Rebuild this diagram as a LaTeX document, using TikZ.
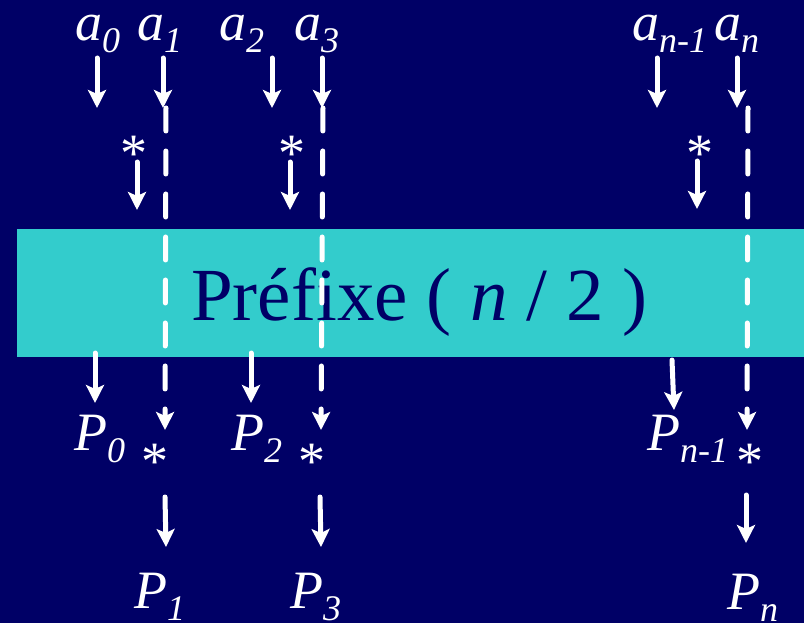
\documentclass[tikz,border=0pt]{standalone}
\usepackage{fontspec}
\setmainfont{Liberation Serif}
\usetikzlibrary{arrows.meta}
\definecolor{navy}{RGB}{0,0,102}
\definecolor{band}{RGB}{51,204,204}
\newcommand\labsub[3]{{\fontsize{54}{54}\selectfont\itshape #1\kern#3\raisebox{-12pt}{\fontsize{36}{36}\selectfont #2}}}
\begin{document}
\begin{tikzpicture}[x=1pt,y=-1pt,
  lbl/.style={anchor=base west,inner sep=0pt,text=white},
  star/.style={anchor=base,inner sep=0pt,text=white,font=\fontsize{54}{54}\selectfont},
  arr/.style={draw=white,line width=5pt,line cap=round,-{Stealth[length=18pt,width=18pt,inset=4pt]}},
  darr/.style={arr,dash pattern=on 23pt off 20pt}]
\fill[navy] (0,0) rectangle (804,623);
\useasboundingbox (0,0) rectangle (804,623);
\fill[band] (17,229) rectangle (804,357);
\node[anchor=base west,inner sep=0pt,text=navy,font=\fontsize{75}{75}\selectfont] (pref) at (191,320) {Pr\'efixe ( \textit{n} / 2 )};
% top labels
\node[lbl] (a0) at (75,41) {\labsub{a}{0}{0pt}};
\node[lbl] (a1) at (137,41) {\labsub{a}{1}{0pt}};
\node[lbl] (a2) at (219,41) {\labsub{a}{2}{0pt}};
\node[lbl] (a3) at (294,41) {\labsub{a}{3}{0pt}};
\node[lbl] (an1) at (632,41) {\labsub{a}{n-1}{0pt}};
\node[lbl] (an) at (714,41) {\labsub{a}{n}{0pt}};
% stars
\node[star] (s1) at (134,172) {*};
\node[star] (s3) at (292,172) {*};
\node[star] (sn) at (700,172) {*};
\node[star] (t1) at (155,479) {*};
\node[star] (t3) at (312,479) {*};
\node[star] (tn) at (750,479) {*};
% P labels
\node[lbl] (P0) at (74,450) {\labsub{P}{0}{0pt}};
\node[lbl] (P2) at (231,450) {\labsub{P}{2}{0pt}};
\node[lbl] (Pn1) at (647,450) {\labsub{P}{n-1}{0pt}};
\node[lbl] (P1) at (134,608) {\labsub{P}{1}{0pt}};
\node[lbl] (P3) at (290,608) {\labsub{P}{3}{0pt}};
\node[lbl] (Pn) at (727,609) {\labsub{P}{n}{0pt}};
% coordinates
\coordinate (a0s) at (97,58);   \coordinate (a0e) at (97,108);
\coordinate (a1s) at (163,58);  \coordinate (a1e) at (163,108);
\coordinate (a2s) at (272,58);  \coordinate (a2e) at (272,108);
\coordinate (a3s) at (322,58);  \coordinate (a3e) at (322,108);
\coordinate (an1s) at (657,58); \coordinate (an1e) at (657,108);
\coordinate (ans) at (737,58);  \coordinate (ane) at (737,108);
\coordinate (s1s) at (137,162); \coordinate (s1e) at (137,210);
\coordinate (s3s) at (290,162); \coordinate (s3e) at (290,210);
\coordinate (sns) at (697,161); \coordinate (sne) at (697,209);
\coordinate (d1s) at (166,108); \coordinate (d1e) at (165,430);
\coordinate (d3s) at (323,108); \coordinate (d3e) at (321,430);
\coordinate (dns) at (748,108); \coordinate (dne) at (747,430);
\coordinate (p0s) at (95,353);  \coordinate (p0e) at (95,403);
\coordinate (p2s) at (251,353); \coordinate (p2e) at (251,403);
\coordinate (pn1s) at (672,360); \coordinate (pn1e) at (674,410);
\coordinate (t1s) at (165,497); \coordinate (t1e) at (166,547);
\coordinate (t3s) at (320,497); \coordinate (t3e) at (321,547);
\coordinate (tns) at (746,495); \coordinate (tne) at (746,543);
% arrows
\foreach \n in {a0,a1,a2,a3,an1,an,s1,s3,sn,p0,p2,pn1,t1,t3,tn}
  \draw[arr] (\n s) -- (\n e);
\foreach \n in {d1,d3,dn}
  \draw[darr] (\n s) -- (\n e);
\end{tikzpicture}
\end{document}
